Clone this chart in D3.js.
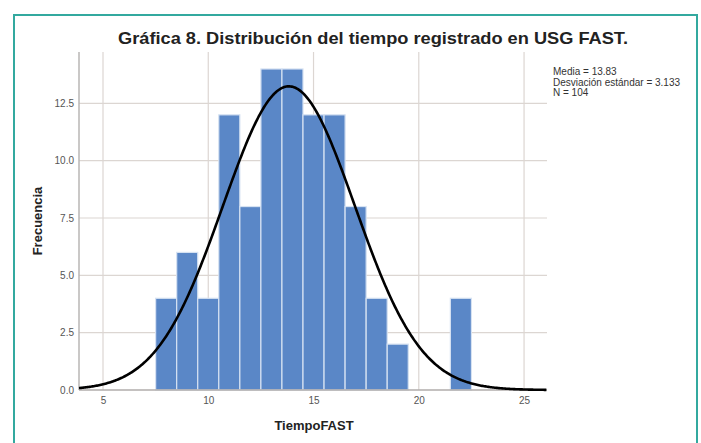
<!DOCTYPE html>
<html><head><meta charset="utf-8">
<script src="https://cdn.jsdelivr.net/npm/d3@7"></script>
<style>
html,body{margin:0;padding:0;background:#fff;}
svg{display:block;}
</style>
</head><body>
<script>
// Data
const binStarts = [7.5, 8.5, 9.5, 10.5, 11.5, 12.5, 13.5, 14.5, 15.5, 16.5, 17.5, 18.5, 21.5];
const binWidth = 1.0;
const counts = [4, 6, 4, 12, 8, 14, 14, 12, 12, 8, 4, 2, 4];
const xTicks = [5, 10, 15, 20, 25];
const yTicks = [0, 2.5, 5, 7.5, 10, 12.5];
const stats = {mean: 13.83, sd: 3.133, n: 104};
const legendLines = ["Media = 13.83", "Desviación estándar = 3.133", "N = 104"];
const titleText = "Gráfica 8. Distribución del tiempo registrado en USG FAST.";

const W = 701, H = 443;
const svg = d3.select("body").append("svg").attr("width", W).attr("height", H);

// frame
svg.append("path")
  .attr("d", `M14,${H+2} V15 H697 V${H+2}`)
  .attr("fill", "none").attr("stroke", "#33a99f").attr("stroke-width", 2);

const x = d3.scaleLinear().domain([3.86, 26.09]).range([79, 547]);
const y = d3.scaleLinear().domain([0, 14.74]).range([390, 52]);

// grid
const g = svg.append("g");
g.selectAll("line.vg").data(xTicks).join("line")
  .attr("x1", d => x(d)).attr("x2", d => x(d))
  .attr("y1", y.range()[1]).attr("y2", y(0))
  .attr("stroke", "#dcd6d2").attr("stroke-width", 1.2);
g.selectAll("line.hg").data(yTicks.filter(d => d > 0)).join("line")
  .attr("x1", x.range()[0]).attr("x2", x.range()[1])
  .attr("y1", d => y(d)).attr("y2", d => y(d))
  .attr("stroke", "#dcd6d2").attr("stroke-width", 1.2);

// bars
const bars = binStarts.map((s, i) => ({x0: s, x1: s + binWidth, c: counts[i]}));
g.selectAll("rect.bar").data(bars).join("rect")
  .attr("x", d => x(d.x0)).attr("width", d => x(d.x1) - x(d.x0))
  .attr("y", d => y(d.c)).attr("height", d => y(0) - y(d.c))
  .attr("fill", "#5a87c7").attr("stroke", "#d6e2f2").attr("stroke-width", 1.2);

// axes lines
g.append("line").attr("x1", x.range()[0]).attr("x2", x.range()[0])
  .attr("y1", y.range()[1]).attr("y2", y(0)).attr("stroke", "#b9b6b4").attr("stroke-width", 1.5);
g.append("line").attr("x1", x.range()[0]).attr("x2", x.range()[1])
  .attr("y1", y(0)).attr("y2", y(0)).attr("stroke", "#b0adab").attr("stroke-width", 1.5);

// normal curve
const pdf = v => stats.n * binWidth / (stats.sd * Math.sqrt(2 * Math.PI)) *
  Math.exp(-0.5 * Math.pow((v - stats.mean) / stats.sd, 2));
const xs = d3.range(x.domain()[0], x.domain()[1] + 0.001, 0.05);
g.append("path").datum(xs)
  .attr("d", d3.line().x(v => x(v)).y(v => y(pdf(v))))
  .attr("fill", "none").attr("stroke", "#000").attr("stroke-width", 2.6);

// axes tick labels
const xAxis = d3.axisBottom(x).tickValues(xTicks).tickSize(0).tickPadding(7).tickFormat(d3.format("d"));
const xa = svg.append("g").attr("transform", `translate(0,${y(0)})`).call(xAxis);
xa.select(".domain").remove();
xa.selectAll("text").attr("font-family", "Liberation Sans, Arial, sans-serif")
  .attr("font-size", 10).attr("fill", "#555");

const yAxis = d3.axisLeft(y).tickValues(yTicks).tickSize(0).tickPadding(5).tickFormat(d3.format(".1f"));
const ya = svg.append("g").attr("transform", `translate(${x.range()[0]},0)`).call(yAxis);
ya.select(".domain").remove();
ya.selectAll("text").attr("font-family", "Liberation Sans, Arial, sans-serif")
  .attr("font-size", 10).attr("fill", "#555");

// axis titles
svg.append("text").attr("x", 314).attr("y", 430).attr("text-anchor", "middle")
  .attr("font-family", "Liberation Sans, Arial, sans-serif").attr("font-weight", "bold")
  .attr("font-size", 13).attr("fill", "#222").text("TiempoFAST");
svg.append("text").attr("transform", "translate(42,221) rotate(-90)").attr("text-anchor", "middle")
  .attr("font-family", "Liberation Sans, Arial, sans-serif").attr("font-weight", "bold")
  .attr("font-size", 13).attr("fill", "#222").text("Frecuencia");

// title
svg.append("text").attr("x", 118).attr("y", 44)
  .attr("font-family", "Liberation Sans, Arial, sans-serif").attr("font-weight", "bold")
  .attr("font-size", 17).attr("fill", "#222")
  .attr("textLength", 510).attr("lengthAdjust", "spacingAndGlyphs")
  .text(titleText);

// legend
svg.append("g").selectAll("text").data(legendLines).join("text")
  .attr("x", 553).attr("y", (d, i) => 75 + i * 10.5)
  .attr("font-family", "Liberation Sans, Arial, sans-serif")
  .attr("font-size", 10).attr("fill", "#333").text(d => d);
</script>
</body></html>
